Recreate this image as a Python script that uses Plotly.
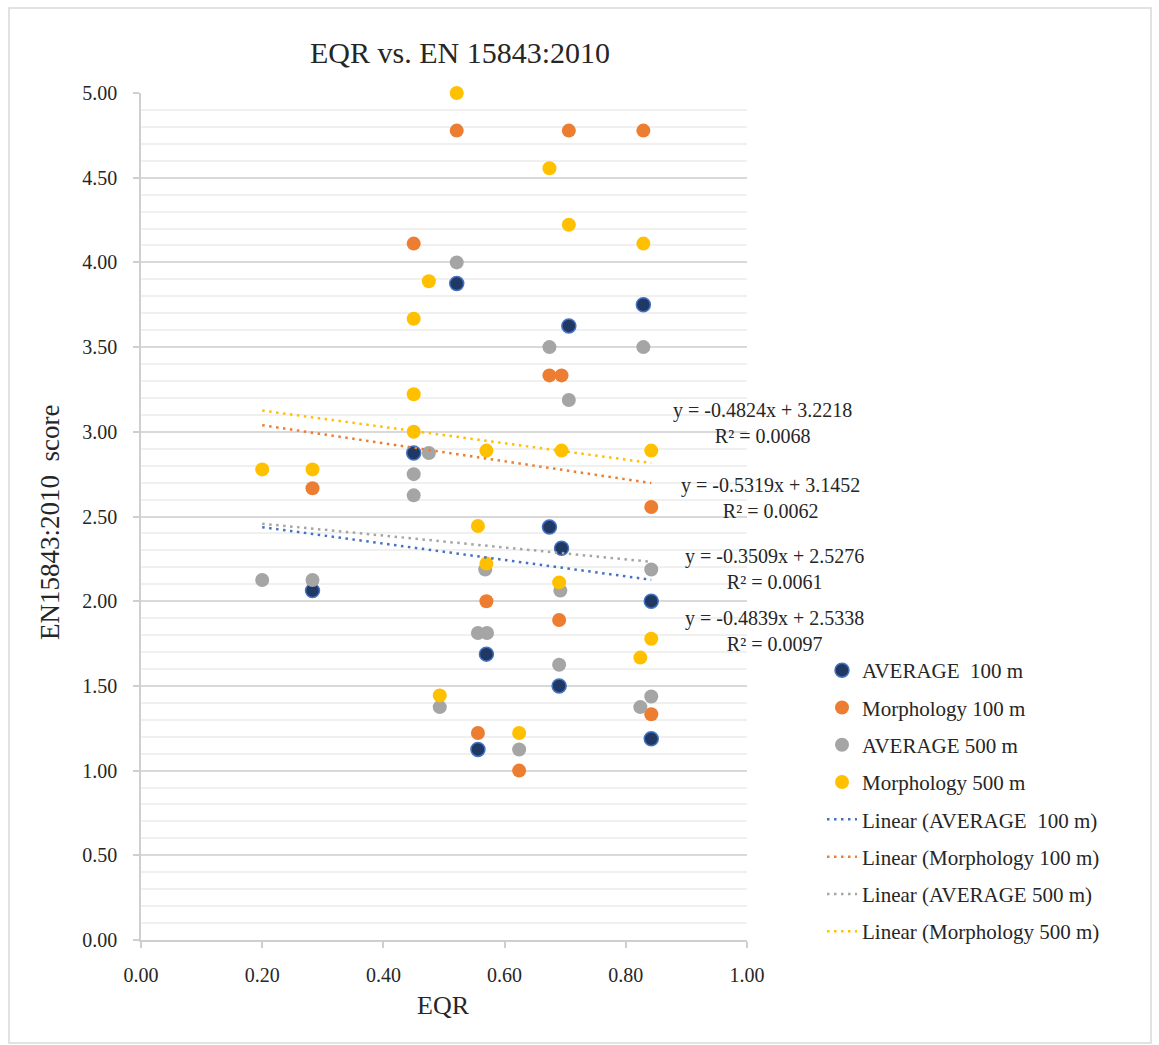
import numpy as np
import plotly.graph_objects as go

# ---------------- data ----------------
series_names = ["AVERAGE  100 m", "Morphology 100 m", "AVERAGE 500 m", "Morphology 500 m"]

avg100_x = [0.283, 0.45, 0.521, 0.556, 0.570, 0.674, 0.690, 0.694, 0.706, 0.829, 0.842, 0.842]
avg100_y = [2.0625, 2.875, 3.875, 1.125, 1.6875, 2.4375, 1.5, 2.3125, 3.625, 3.75, 2.0, 1.1875]

morph100_x = [0.283, 0.45, 0.521, 0.556, 0.570, 0.624, 0.674, 0.690, 0.694, 0.706, 0.829, 0.842, 0.842]
morph100_y = [2.667, 4.111, 4.778, 1.222, 2.0, 1.0, 3.333, 1.889, 3.333, 4.778, 4.778, 2.556, 1.333]

avg500_x = [0.20, 0.283, 0.45, 0.45, 0.475, 0.493, 0.521, 0.556, 0.571, 0.568, 0.624, 0.674,
            0.690, 0.692, 0.706, 0.824, 0.829, 0.842, 0.842]
avg500_y = [2.125, 2.125, 2.75, 2.625, 2.875, 1.375, 4.0, 1.8125, 1.8125, 2.1875, 1.125, 3.5,
            1.625, 2.0625, 3.1875, 1.375, 3.5, 2.1875, 1.4375]

morph500_x = [0.20, 0.283, 0.45, 0.45, 0.45, 0.475, 0.493, 0.521, 0.556, 0.570, 0.570, 0.624,
              0.674, 0.690, 0.694, 0.706, 0.824, 0.829, 0.842, 0.842]
morph500_y = [2.778, 2.778, 3.667, 3.222, 3.0, 3.889, 1.444, 5.0, 2.444, 2.889, 2.222, 1.222,
              4.556, 2.111, 2.889, 4.222, 1.667, 4.111, 2.889, 1.778]

trend_slopes = [-0.4839, -0.5319, -0.3509, -0.4824]
trend_intercepts = [2.5338, 3.1452, 2.5276, 3.2218]
trend_r2 = [0.0097, 0.0062, 0.0061, 0.0068]

x_tick_vals = [0.0, 0.2, 0.4, 0.6, 0.8, 1.0]
y_tick_vals = [0.0, 0.5, 1.0, 1.5, 2.0, 2.5, 3.0, 3.5, 4.0, 4.5, 5.0]

# ---------------- styling ----------------
FONT = "Liberation Serif"
TXT = "#262626"
fill_colors = ["#203864", "#ED7D31", "#A5A5A5", "#FFC000"]
edge_colors = ["#4472C4", "#ED7D31", "#A5A5A5", "#FFC000"]
trend_colors = ["#4472C4", "#ED7D31", "#A5A5A5", "#FFC000"]

W, H = 1159, 1045
L, R, T, B = 141, 747, 93, 940  # plot area in pixels


def px_x(p):
    return (p - L) / (R - L)


def px_y(p):
    return (B - p) / (B - T)


xs = [avg100_x, morph100_x, avg500_x, morph500_x]
ys = [avg100_y, morph100_y, avg500_y, morph500_y]

fig = go.Figure()

for i, name in enumerate(series_names):
    fig.add_trace(go.Scatter(
        x=xs[i], y=ys[i], mode="markers", name=name,
        legendgroup=f"g{i}",
        marker=dict(size=14, color=fill_colors[i],
                    line=dict(color=edge_colors[i], width=1.5 if i == 0 else 0)),
        cliponaxis=False,
    ))

all_x = np.concatenate([np.array(v) for v in xs])
x_lo, x_hi = float(all_x.min()), float(all_x.max())
tx = np.array([x_lo, x_hi])

for i, name in enumerate(series_names):
    ty = trend_slopes[i] * tx + trend_intercepts[i]
    fig.add_trace(go.Scatter(
        x=tx, y=ty, mode="lines", name=f"Linear ({name})",
        legendgroup=f"t{i}",
        line=dict(color=trend_colors[i], width=2.5, dash="2.5px,4.5px"),
    ))

# equation labels (pixel centres)
eq_pos = [(774, 631), (770, 498), (774, 569), (762, 423)]
annotations = []
for i in range(4):
    cx, cy = eq_pos[i]
    annotations.append(dict(
        xref="paper", yref="paper", x=px_x(cx), y=px_y(cy),
        xanchor="center", yanchor="middle", showarrow=False, align="center",
        text=f"y = {trend_slopes[i]:.4f}x + {trend_intercepts[i]:.4f}<br>R² = {trend_r2[i]:.4f}",
        font=dict(family=FONT, size=20, color=TXT),
    ))

annotations.append(dict(
    xref="paper", yref="paper", x=px_x(50), y=px_y(522), textangle=-90,
    xanchor="center", yanchor="middle", showarrow=False,
    text="EN15843:2010\u00a0\u00a0score", font=dict(family=FONT, size=27, color=TXT)))
annotations.append(dict(
    xref="paper", yref="paper", x=px_x(443), y=px_y(1005),
    xanchor="center", yanchor="middle", showarrow=False,
    text="EQR", font=dict(family=FONT, size=26, color=TXT)))

fig.update_layout(
    width=W, height=H,
    margin=dict(l=L, r=W - R, t=T, b=H - B, autoexpand=False),
    paper_bgcolor="white", plot_bgcolor="white",
    font=dict(family=FONT, color=TXT),
    title=dict(text="EQR vs. EN 15843:2010", xref="paper", x=px_x(460), xanchor="center",
               yref="container", y=1 - 52 / H, yanchor="middle",
               font=dict(family=FONT, size=30, color=TXT)),
    showlegend=True,
    legend=dict(x=px_x(822), y=px_y(650), xanchor="left", yanchor="top",
                traceorder="grouped", tracegroupgap=7,
                font=dict(family=FONT, size=21, color=TXT),
                bgcolor="rgba(0,0,0,0)", borderwidth=0),
    annotations=annotations,
    shapes=[dict(type="rect", xref="paper", yref="paper",
                 x0=px_x(9), x1=px_x(1151), y0=px_y(1043), y1=px_y(8),
                 line=dict(color="#d9d9d9", width=1.5), fillcolor="rgba(0,0,0,0)", layer="below")],
)

fig.update_xaxes(
    range=[0, 1], tickvals=x_tick_vals, tickformat=".2f",
    showgrid=False, zeroline=False,
    showline=True, linecolor="#cfcfcf", linewidth=1.5,
    ticks="outside", ticklen=6, tickcolor="#cfcfcf", tickwidth=1.5,
    ticklabelstandoff=10,
    tickfont=dict(family=FONT, size=20, color=TXT),
    automargin=False,
)
fig.update_yaxes(
    range=[0, 5], tickvals=y_tick_vals, tickformat=".2f",
    showgrid=True, gridcolor="#d9d9d9", gridwidth=1.5, zeroline=False,
    minor=dict(dtick=0.1, showgrid=True, gridcolor="#f0f0f0", gridwidth=1.5),
    showline=True, linecolor="#cfcfcf", linewidth=1.5,
    ticks="outside", ticklen=6, tickcolor="#cfcfcf", tickwidth=1.5,
    ticklabelstandoff=12,
    tickfont=dict(family=FONT, size=20, color=TXT),
    automargin=False,
)

fig.write_html("out.html", config={"displayModeBar": False},
               post_script="document.body.style.margin='0';")
